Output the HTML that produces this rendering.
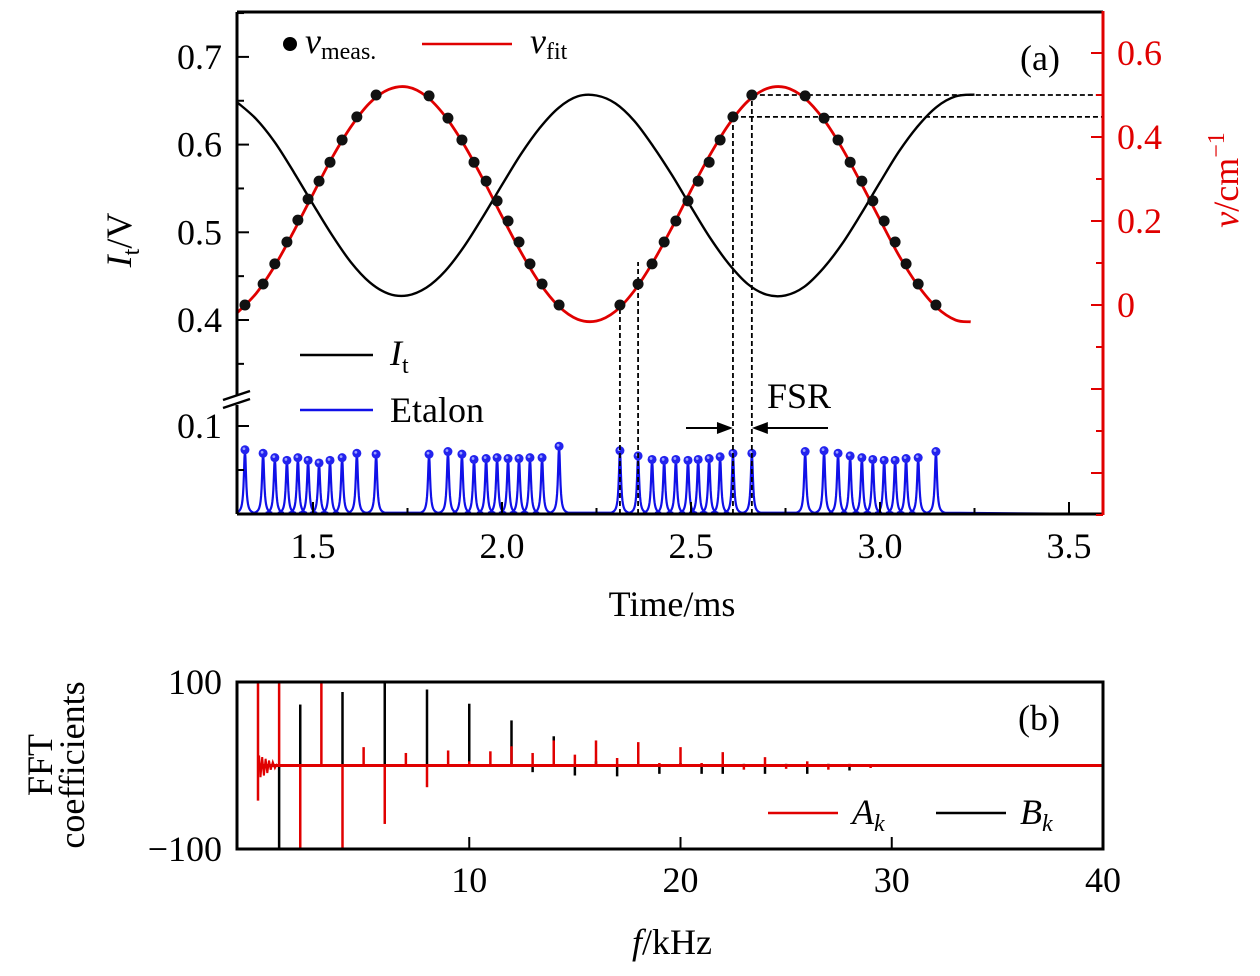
<!DOCTYPE html>
<html><head><meta charset="utf-8"><style>
html,body{margin:0;padding:0;background:#fff;}
svg{display:block;font-family:"Liberation Serif",serif;}
</style></head><body>
<svg id="chart" width="1260" height="976" viewBox="0 0 1260 976" xmlns="http://www.w3.org/2000/svg">
<defs>
<clipPath id="clipTop"><rect x="237" y="12" width="866" height="502"/></clipPath>
<clipPath id="clipBot"><rect x="237" y="682" width="866" height="167"/></clipPath>
</defs>
<g id="panelTop"></g>
<g id="panelBot"></g>
</svg>
<script>
// ---------- Panel (a) data ----------
const itTimes = [1.30,1.35,1.40,1.45,1.50,1.55,1.60,1.65,1.70,1.75,1.80,1.85,1.90,1.95,2.00,2.05,2.10,2.15,2.20,2.25,2.30,2.35,2.40,2.45,2.50,2.55,2.60,2.65,2.70,2.75,2.80,2.85,2.90,2.95,3.00,3.05,3.10,3.15,3.20,3.25];
const itValues = [0.648,0.629,0.602,0.568,0.532,0.497,0.466,0.443,0.430,0.428,0.437,0.456,0.484,0.518,0.554,0.589,0.619,0.642,0.655,0.656,0.647,0.627,0.598,0.565,0.529,0.494,0.464,0.441,0.429,0.428,0.438,0.459,0.487,0.521,0.557,0.592,0.621,0.643,0.655,0.657];
const fitTimes = [1.30,1.35,1.40,1.45,1.50,1.55,1.60,1.65,1.70,1.75,1.80,1.85,1.90,1.95,2.00,2.05,2.10,2.15,2.20,2.25,2.30,2.35,2.40,2.45,2.50,2.55,2.60,2.65,2.70,2.75,2.80,2.85,2.90,2.95,3.00,3.05,3.10,3.15,3.20,3.24];
const fitValues = [-0.018,0.028,0.095,0.177,0.264,0.350,0.424,0.481,0.513,0.519,0.497,0.449,0.381,0.299,0.211,0.126,0.052,-0.003,-0.034,-0.038,-0.015,0.034,0.103,0.185,0.273,0.357,0.430,0.485,0.515,0.518,0.493,0.443,0.373,0.290,0.203,0.118,0.047,-0.006,-0.036,-0.040];
const peakTimes = [1.320,1.368,1.399,1.431,1.460,1.487,1.516,1.545,1.577,1.616,1.667,
 1.807,1.857,1.894,1.926,1.958,1.987,2.016,2.045,2.074,2.106,2.151,
 2.312,2.360,2.397,2.429,2.460,2.492,2.519,2.548,2.577,2.611,2.661,
 2.802,2.852,2.889,2.921,2.952,2.981,3.011,3.040,3.069,3.101,3.148];
const etalonHeights = [0.073,0.069,0.064,0.061,0.064,0.061,0.058,0.061,0.064,0.069,0.068,
 0.068,0.071,0.068,0.062,0.063,0.064,0.063,0.063,0.064,0.064,0.077,
 0.072,0.066,0.062,0.061,0.062,0.061,0.062,0.063,0.065,0.069,0.069,
 0.071,0.072,0.069,0.066,0.064,0.062,0.061,0.061,0.063,0.064,0.071];
const nuMeas = [0,0.050,0.098,0.150,0.202,0.252,0.295,0.340,0.393,0.448,0.500,
 0.498,0.445,0.393,0.340,0.295,0.248,0.200,0.150,0.098,0.050,0,
 0,0.050,0.098,0.150,0.200,0.248,0.295,0.340,0.393,0.448,0.500,
 0.498,0.445,0.393,0.340,0.295,0.248,0.200,0.150,0.098,0.050,0];
const xTicks = [1.5,2.0,2.5,3.0,3.5];
const xTickLabels = ["1.5","2.0","2.5","3.0","3.5"];
const leftTicks = [0.4,0.5,0.6,0.7];
const leftTickLabels = ["0.4","0.5","0.6","0.7"];
const rightTicks = [0,0.2,0.4,0.6];
const rightTickLabels = ["0","0.2","0.4","0.6"];
// ---------- Panel (b) data ----------
const fftFreqs = [1,2,3,4,5,6,7,8,9,10,11,12,13,14,15,16,17,18,19,20,21,22,23,24,25,26,27,28,29];
const coefA = [120,-120,120,-120,22,-70,15,-26,18,5,17,23,15,30,13,30,9,28,3,22,3,16,-5,10,-4,5,-5,2,-3];
const coefB = [-120,73,0,88,0,120,0,91,0,74,0,54,-8,35,-12,5,-13,3,-10,3,-10,-10,2,-10,2,-10,2,-6,1];
const lowFreqNoiseF = [0.05,0.12,0.2,0.28,0.36,0.44,0.52,0.6,0.7,0.8,0.9];
const lowFreqNoiseA = [12,-14,10,-12,8,-9,6,-5,4,-3,2];
const fTicks = [10,20,30,40];
const fTickLabels = ["10","20","30","40"];

const NS="http://www.w3.org/2000/svg";
function mk(parent,tag,attrs,text){const e=document.createElementNS(NS,tag);for(const k in attrs)e.setAttribute(k,attrs[k]);if(text!==undefined)e.textContent=text;parent.appendChild(e);return e;}
function smooth(pts){let d=`M${pts[0][0].toFixed(1)},${pts[0][1].toFixed(1)}`;
 for(let i=0;i<pts.length-1;i++){const p0=pts[Math.max(0,i-1)],p1=pts[i],p2=pts[i+1],p3=pts[Math.min(pts.length-1,i+2)];
  const c1=[p1[0]+(p2[0]-p0[0])/6,p1[1]+(p2[1]-p0[1])/6],c2=[p2[0]-(p3[0]-p1[0])/6,p2[1]-(p3[1]-p1[1])/6];
  d+=` C${c1[0].toFixed(1)},${c1[1].toFixed(1)} ${c2[0].toFixed(1)},${c2[1].toFixed(1)} ${p2[0].toFixed(1)},${p2[1].toFixed(1)}`;}
 return d;}
const topG=document.getElementById('panelTop'), botG=document.getElementById('panelBot');

const xT=t=>313+(t-1.5)*378;
const yL=v=>320-(v-0.4)*877;
const yE=v=>514-v*880;
const yR=n=>305-n*420;
const xF=f=>258+f*21.125;
const yB=v=>765.5-v*0.835;
const FS=36;

// ---- panel a marks ----
const gA=mk(topG,'g',{'clip-path':'url(#clipTop)'});
let ed="M237,514";
peakTimes.forEach((t,i)=>{const cx=xT(t),h=etalonHeights[i];
 for(let dx=-9;dx<=9;dx+=0.5){const v=h/(1+(dx/1.3)*(dx/1.3));ed+=` L${(cx+dx).toFixed(2)},${yE(v).toFixed(2)}`;}
});
ed+=" L1103,514";
const et=mk(gA,'path',{d:ed,fill:'none',stroke:'#1010e8','stroke-width':2.2});


peakTimes.forEach((t,i)=>{const c=mk(gA,'circle',{cx:xT(t),cy:yE(etalonHeights[i]),r:4.5,fill:'#2323ee'});
 
 
 mk(gA,'circle',{cx:xT(t)-1,cy:yE(etalonHeights[i])-1,r:1.4,fill:'#9aa0ff'});});
const itPath=mk(gA,'path',{d:smooth(itTimes.map((t,i)=>[xT(t),yL(itValues[i])])),fill:'none',stroke:'#000','stroke-width':2.4});


const gd=mk(gA,'g',{stroke:'#000','stroke-width':1.8,'stroke-dasharray':'5,3',fill:'none'});


[[22,yR(nuMeas[22])],[23,262],[31,yR(nuMeas[31])],[32,yR(nuMeas[32])]].forEach(p=>mk(gd,'line',{x1:xT(peakTimes[p[0]]),y1:514,x2:xT(peakTimes[p[0]]),y2:p[1]}));
[31,32].forEach(i=>mk(gd,'line',{x1:xT(peakTimes[i]),y1:yR(nuMeas[i]),x2:1103,y2:yR(nuMeas[i])}));
const fit=mk(gA,'path',{d:smooth(fitTimes.map((t,i)=>[xT(t),yR(fitValues[i])])),fill:'none',stroke:'#e00000','stroke-width':2.8});


peakTimes.forEach((t,i)=>{const c=mk(gA,'circle',{cx:xT(t),cy:yR(nuMeas[i]),r:5.5,fill:'#111'});
 
 });
const fsr=mk(topG,'g',{stroke:'#000','stroke-width':2,fill:'#000'});


const xa=xT(peakTimes[31]),xb=xT(peakTimes[32]);
mk(fsr,'line',{x1:686,y1:428,x2:xa-12,y2:428});
mk(fsr,'polygon',{points:`${xa},428 ${xa-16},422 ${xa-16},434`,stroke:'none'});
mk(fsr,'line',{x1:828,y1:428,x2:xb+12,y2:428});
mk(fsr,'polygon',{points:`${xb},428 ${xb+16},422 ${xb+16},434`,stroke:'none'});
const fsrT=mk(topG,'text',{x:767,y:408,'font-size':FS},'FSR');



const axA=mk(topG,'g',{stroke:'#000','stroke-width':3,fill:'none'});


mk(axA,'line',{x1:237,y1:12,x2:1103,y2:12});
mk(axA,'line',{x1:237,y1:514,x2:1103,y2:514});
mk(axA,'line',{x1:237,y1:12,x2:237,y2:400});
mk(axA,'line',{x1:237,y1:404,x2:237,y2:514});
mk(topG,'line',{x1:1103,y1:11,x2:1103,y2:515,stroke:'#e00000','stroke-width':3});
mk(topG,'rect',{x:228,y:395,width:20,height:10,fill:'#fff'});
mk(topG,'line',{x1:223,y1:400,x2:250,y2:391,stroke:'#000','stroke-width':2.5});
mk(topG,'line',{x1:223,y1:408,x2:250,y2:399,stroke:'#000','stroke-width':2.5});
xTicks.forEach((t,i)=>{mk(topG,'line',{x1:xT(t),y1:514,x2:xT(t),y2:502,stroke:'#000','stroke-width':2});
 if(xT(t+0.25)<1100) mk(topG,'line',{x1:xT(t+0.25),y1:514,x2:xT(t+0.25),y2:508,stroke:'#000','stroke-width':2});
 const l=mk(topG,'text',{x:xT(t),y:558,'font-size':FS,'text-anchor':'middle'},xTickLabels[i]);
 
 });
leftTicks.forEach((v,i)=>{mk(topG,'line',{x1:237,y1:yL(v),x2:249,y2:yL(v),stroke:'#000','stroke-width':2});
 mk(topG,'line',{x1:237,y1:yL(v-0.05),x2:244,y2:yL(v-0.05),stroke:'#000','stroke-width':2});
 const l=mk(topG,'text',{x:222,y:yL(v)+12,'font-size':FS,'text-anchor':'end'},leftTickLabels[i]);
 
 });
mk(topG,'line',{x1:237,y1:yL(0.75),x2:244,y2:yL(0.75),stroke:'#000','stroke-width':2});
mk(topG,'line',{x1:237,y1:yE(0.1),x2:249,y2:yE(0.1),stroke:'#000','stroke-width':2});
mk(topG,'line',{x1:237,y1:yE(0.05),x2:244,y2:yE(0.05),stroke:'#000','stroke-width':2});
const l01=mk(topG,'text',{x:222,y:yE(0.1)+12,'font-size':FS,'text-anchor':'end'},'0.1');


for(let k=-5;k<=7;k++){const n=k/10;const y=yR(n);if(y<12||y>515)continue;const major=(Math.abs(k)%2===0);
 mk(topG,'line',{x1:1103,y1:y,x2:major?1091:1096,y2:y,stroke:'#e00000','stroke-width':2});}
rightTicks.forEach((v,i)=>{const l=mk(topG,'text',{x:1117,y:yR(v)+12,'font-size':FS,fill:'#e00000'},rightTickLabels[i]);
 
 });
const xt=mk(topG,'text',{x:672,y:616,'font-size':FS,'text-anchor':'middle'},'Time/ms');


const yt=mk(topG,'text',{transform:'translate(131,240) rotate(-90)','font-size':FS,'text-anchor':'middle'});


yt.innerHTML='<tspan font-style="italic">I</tspan><tspan font-size="24" dy="8">t</tspan><tspan dy="-8">/V</tspan>';
const rt=mk(topG,'text',{transform:'translate(1238,180) rotate(-90)','font-size':FS,'text-anchor':'middle',fill:'#e00000'});


rt.innerHTML='<tspan font-style="italic">ν</tspan>/cm<tspan font-size="24" dy="-14">−1</tspan>';
const lg=mk(topG,'g',{});


mk(lg,'circle',{cx:290,cy:44,r:7,fill:'#000'});
mk(lg,'text',{x:305,y:53,'font-size':FS}).innerHTML='<tspan font-style="italic">ν</tspan><tspan font-size="24" dy="6">meas.</tspan>';
mk(lg,'line',{x1:422,y1:44,x2:512,y2:44,stroke:'#e00000','stroke-width':2.5});
mk(lg,'text',{x:530,y:53,'font-size':FS}).innerHTML='<tspan font-style="italic">ν</tspan><tspan font-size="24" dy="6">fit</tspan>';
mk(lg,'line',{x1:300,y1:355,x2:373,y2:355,stroke:'#000','stroke-width':2.5});
mk(lg,'text',{x:390,y:365,'font-size':FS}).innerHTML='<tspan font-style="italic">I</tspan><tspan font-size="24" dy="8">t</tspan>';
mk(lg,'line',{x1:300,y1:410,x2:373,y2:410,stroke:'#1010e8','stroke-width':2.5});
mk(lg,'text',{x:390,y:422,'font-size':FS},'Etalon');
const pa=mk(topG,'text',{x:1020,y:70,'font-size':FS},'(a)');



// ---------- panel b ----------
const gB=mk(botG,'g',{'clip-path':'url(#clipBot)'});
mk(gB,'line',{x1:xF(0.2),y1:yB(0),x2:1103,y2:yB(0),stroke:'#000','stroke-width':2});
fftFreqs.forEach((f,i)=>{const b=mk(gB,'line',{x1:xF(f),y1:yB(0),x2:xF(f),y2:yB(coefB[i]),stroke:'#000','stroke-width':2.5});
 
 });
mk(gB,'line',{x1:xF(0.2),y1:yB(0),x2:1103,y2:yB(0),stroke:'#e00000','stroke-width':3});
mk(gB,'line',{x1:xF(0),y1:682,x2:xF(0),y2:yB(-42),stroke:'#e00000','stroke-width':2.5});
const nz=mk(gB,'path',{d:lowFreqNoiseF.map((f,i)=>(i?'L':'M')+xF(f).toFixed(1)+','+yB(lowFreqNoiseA[i]).toFixed(1)).join(' '),fill:'none',stroke:'#e00000','stroke-width':2});


fftFreqs.forEach((f,i)=>{const a=mk(gB,'line',{x1:xF(f),y1:yB(0),x2:xF(f),y2:yB(coefA[i]),stroke:'#e00000','stroke-width':2.5});
 
 });
const fb=mk(botG,'rect',{x:237,y:682,width:866,height:167,fill:'none',stroke:'#000','stroke-width':3});


fTicks.forEach((f,i)=>{if(xF(f)<1100) mk(botG,'line',{x1:xF(f),y1:849,x2:xF(f),y2:837,stroke:'#000','stroke-width':2});
 const l=mk(botG,'text',{x:xF(f),y:892,'font-size':FS,'text-anchor':'middle'},fTickLabels[i]);
 
 });
[[100,'100'],[-100,'−100']].forEach(p=>{const l=mk(botG,'text',{x:222,y:yB(p[0])+12,'font-size':FS,'text-anchor':'end'},p[1]);
 
 });
const fx=mk(botG,'text',{x:672,y:954,'font-size':FS,'text-anchor':'middle'});


fx.innerHTML='<tspan font-style="italic">f</tspan>/kHz';
const fy1=mk(botG,'text',{transform:'translate(52,765) rotate(-90)','font-size':FS,'text-anchor':'middle'},'FFT');


const fy2=mk(botG,'text',{transform:'translate(84,765) rotate(-90)','font-size':FS,'text-anchor':'middle'},'coefficients');


const lb=mk(botG,'g',{});


mk(lb,'line',{x1:768,y1:813,x2:838,y2:813,stroke:'#e00000','stroke-width':2.5});
mk(lb,'text',{x:852,y:824,'font-size':FS}).innerHTML='<tspan font-style="italic">A</tspan><tspan font-style="italic" font-size="24" dy="7">k</tspan>';
mk(lb,'line',{x1:936,y1:813,x2:1006,y2:813,stroke:'#000','stroke-width':2.5});
mk(lb,'text',{x:1020,y:824,'font-size':FS}).innerHTML='<tspan font-style="italic">B</tspan><tspan font-style="italic" font-size="24" dy="7">k</tspan>';
const pb=mk(botG,'text',{x:1018,y:730,'font-size':FS},'(b)');


</script>
</body></html>
